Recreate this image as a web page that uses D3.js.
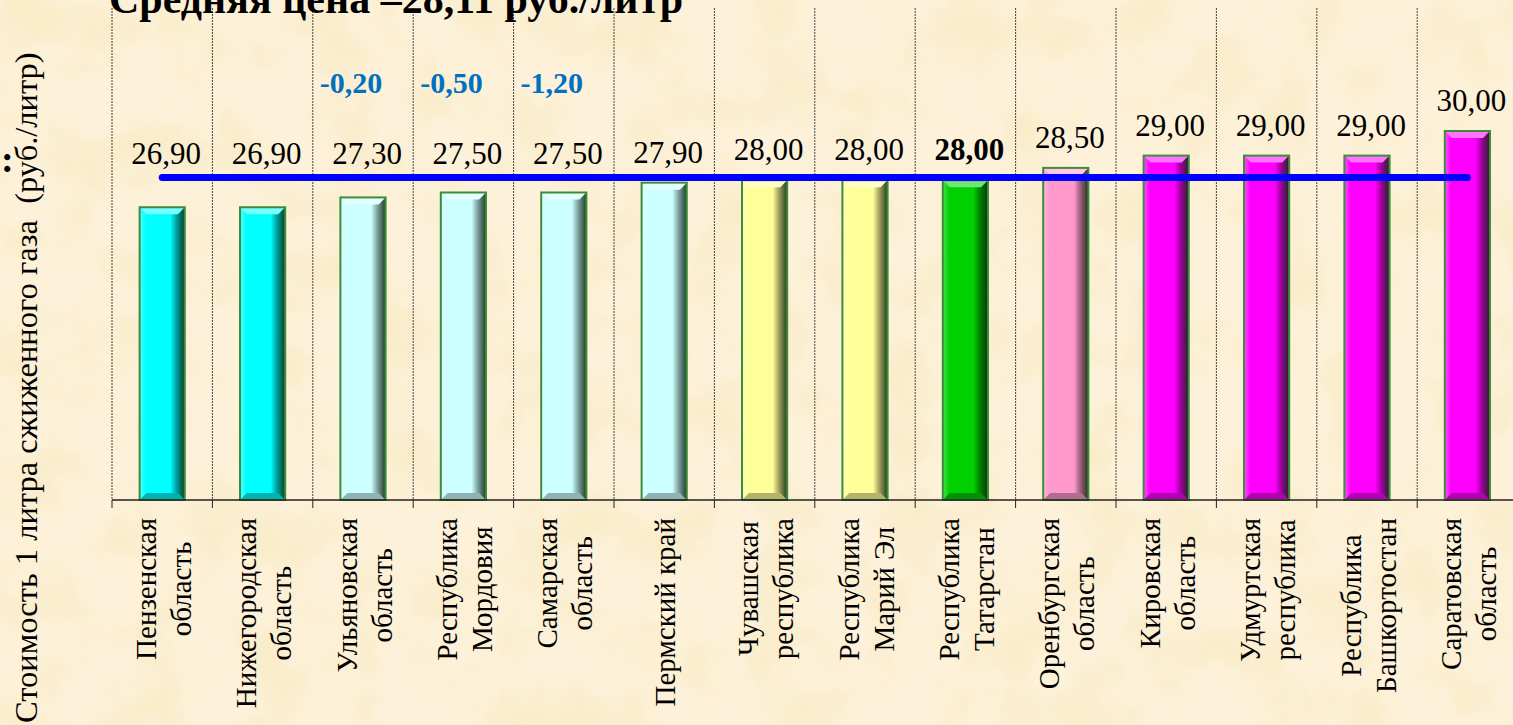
<!DOCTYPE html>
<html>
<head>
<meta charset="utf-8">
<title>Стоимость сжиженного газа</title>
<script src="https://d3js.org/d3.v7.min.js"></script>
<style>
  html, body { margin: 0; padding: 0; overflow: hidden; }
  svg text { font-family: "Liberation Serif", "Times New Roman", serif; }
</style>
</head>
<body>
<div id="chart"></div>
<script>
// Data
var categories = [
    "Пензенская\nобласть", "Нижегородская\nобласть", "Ульяновская\nобласть",
    "Республика\nМордовия", "Самарская\nобласть", "Пермский край",
    "Чувашская\nреспублика", "Республика\nМарий Эл", "Республика\nТатарстан",
    "Оренбургская\nобласть", "Кировская\nобласть", "Удмуртская\nреспублика",
    "Республика\nБашкортостан", "Саратовская\nобласть"
];
var prices = [26.90, 26.90, 27.30, 27.50, 27.50, 27.90, 28.00, 28.00, 28.00, 28.50, 29.00, 29.00, 29.00, 30.00];
var changes = [null, null, -0.20, -0.50, -1.20, null, null, null, null, null, null, null, null, null];
var groups = ["low", "low", "cut", "cut", "cut", "cut", "mid", "mid", "own", "up", "high", "high", "high", "high"];
var average = 28.11;
var highlight = "Республика\nТатарстан";
var yDomain = [15, 35];

var groupColors = {
    low: "#00ffff", cut: "#ccffff", mid: "#ffff99",
    own: "#00d000", up: "#ff99cc", high: "#ff00ff"
};

var width = 1513, height = 725;
var plot = { left: 112, right: 1517.6, top: 8, bottom: 500 };

function fmt(v) { return v.toFixed(2).replace(".", ","); }

var svg = d3.select("#chart").append("svg")
    .attr("width", width).attr("height", height);
var defs = svg.append("defs");

// parchment background
var paper = defs.append("filter").attr("id", "paper")
    .attr("x", 0).attr("y", 0).attr("width", "100%").attr("height", "100%");
paper.append("feTurbulence").attr("type", "fractalNoise")
    .attr("baseFrequency", "0.016").attr("numOctaves", 4).attr("seed", 5).attr("result", "n");
paper.append("feColorMatrix").attr("in", "n").attr("type", "matrix")
    .attr("values", "0 0 0 0 0.95  0 0 0 0 0.84  0 0 0 0 0.58  2.3 0 0 0 -0.92");

svg.append("rect").attr("width", width).attr("height", height).attr("fill", "#fdf1da");
svg.append("rect").attr("width", width).attr("height", height).attr("filter", "url(#paper)");

// scales
var x = d3.scaleBand().domain(categories).range([plot.left, plot.right]).padding(0);
var y = d3.scaleLinear().domain(yDomain).range([plot.bottom, plot.top]);
var barW = x.bandwidth() * 0.45;
var bev = 7;

// gradients per colour group
Object.keys(groupColors).forEach(function(k) {
    var c = groupColors[k];
    var g = defs.append("linearGradient").attr("id", "grad-" + k)
        .attr("x1", 0).attr("x2", 1).attr("y1", 0).attr("y2", 0);
    [[0, d3.interpolateRgb(c, "#ffffff")(0.3)], [0.14, c], [0.68, c],
     [0.82, d3.interpolateRgb(c, "#000000")(0.38)], [1, d3.interpolateRgb(c, "#0a2a0a")(0.9)]]
        .forEach(function(s) { g.append("stop").attr("offset", s[0]).attr("stop-color", s[1]); });
});

// vertical dotted grid lines on band edges
var edges = categories.map(function(d) { return x(d); }).concat([x.range()[1]]);
svg.append("g").selectAll("line").data(edges).enter().append("line")
    .attr("x1", function(d) { return d; }).attr("x2", function(d) { return d; })
    .attr("y1", plot.top).attr("y2", plot.bottom)
    .attr("stroke", "#444").attr("stroke-width", 1).attr("stroke-dasharray", "2,1");
svg.append("g").selectAll("line").data(edges).enter().append("line")
    .attr("x1", function(d) { return d; }).attr("x2", function(d) { return d; })
    .attr("y1", plot.bottom).attr("y2", plot.bottom + 8)
    .attr("stroke", "#222").attr("stroke-width", 1);

// bars
var data = categories.map(function(c, i) {
    return { cat: c, value: prices[i], change: changes[i], group: groups[i] };
});
var bars = svg.append("g").selectAll("g.bar").data(data).enter().append("g").attr("class", "bar");

bars.append("rect")
    .attr("x", function(d) { return x(d.cat) + x.bandwidth() / 2 - barW / 2; })
    .attr("y", function(d) { return y(d.value); })
    .attr("width", barW)
    .attr("height", function(d) { return y(yDomain[0]) - y(d.value); })
    .attr("fill", function(d) { return "url(#grad-" + d.group + ")"; });

// top bevel
bars.append("polygon")
    .attr("points", function(d) {
        var x0 = x(d.cat) + x.bandwidth() / 2 - barW / 2, x1 = x0 + barW, y0 = y(d.value);
        return [[x0, y0], [x1, y0], [x1 - bev, y0 + bev], [x0 + bev, y0 + bev]].join(" ");
    })
    .attr("fill", function(d) { return d3.interpolateRgb(groupColors[d.group], "#ffffff")(0.45); });
// bottom bevel
bars.append("polygon")
    .attr("points", function(d) {
        var x0 = x(d.cat) + x.bandwidth() / 2 - barW / 2, x1 = x0 + barW, y1 = y(yDomain[0]);
        return [[x0, y1], [x1, y1], [x1 - bev, y1 - bev], [x0 + bev, y1 - bev]].join(" ");
    })
    .attr("fill", function(d) { return d3.interpolateRgb(groupColors[d.group], "#000000")(0.3); });
// outline
bars.append("rect")
    .attr("x", function(d) { return x(d.cat) + x.bandwidth() / 2 - barW / 2; })
    .attr("y", function(d) { return y(d.value); })
    .attr("width", barW)
    .attr("height", function(d) { return y(yDomain[0]) - y(d.value); })
    .attr("fill", "none").attr("stroke", "#3c8c3c").attr("stroke-width", 2);

// x axis line
svg.append("line").attr("x1", plot.left).attr("x2", width).attr("y1", plot.bottom).attr("y2", plot.bottom)
    .attr("stroke", "#222").attr("stroke-width", 1.3);

// average line
svg.append("line")
    .attr("x1", x(categories[0]) + x.bandwidth() / 2)
    .attr("x2", x(categories[categories.length - 1]) + x.bandwidth() / 2)
    .attr("y1", y(average)).attr("y2", y(average))
    .attr("stroke", "#0000ff").attr("stroke-width", 7).attr("stroke-linecap", "round");

// value labels
svg.append("g").selectAll("text").data(data).enter().append("text")
    .attr("x", function(d) { return x(d.cat) + x.bandwidth() / 2 + 4; })
    .attr("y", function(d) { return Math.min(y(d.value) - 20, 164); })
    .attr("text-anchor", "middle")
    .attr("font-size", 31)
    .attr("font-weight", function(d) { return d.cat === highlight ? "bold" : "normal"; })
    .attr("fill", "#000")
    .text(function(d) { return fmt(d.value); });

// price change labels
svg.append("g").selectAll("text").data(data.filter(function(d) { return d.change !== null; }))
    .enter().append("text")
    .attr("x", function(d) { return x(d.cat) + x.bandwidth() / 2 - 12; })
    .attr("y", 93)
    .attr("text-anchor", "middle")
    .attr("font-size", 30).attr("font-weight", "bold")
    .attr("fill", "#0070c0")
    .text(function(d) { return fmt(d.change); });

// category labels, rotated
var lineGap = 35;
var catG = svg.append("g").selectAll("g").data(data).enter().append("g")
    .attr("transform", function(d) {
        return "translate(" + (x(d.cat) + x.bandwidth() / 2) + "," + (plot.bottom + 18) + ") rotate(-90)";
    });
catG.each(function(d) {
    var g = d3.select(this);
    var lines = d.cat.split("\n");
    var t = g.append("text").attr("font-size", 29).attr("text-anchor", "middle").attr("fill", "#000");
    lines.forEach(function(l, i) {
        t.append("tspan").attr("x", 0).attr("y", 11 + (i - (lines.length - 1) / 2) * lineGap).text(l);
    });
    var maxLen = 0;
    t.selectAll("tspan").each(function() { maxLen = Math.max(maxLen, this.getComputedTextLength()); });
    t.selectAll("tspan").attr("x", -maxLen / 2);
});

// axis title
svg.append("text")
    .attr("transform", "translate(37,723) rotate(-90)")
    .attr("font-size", 32.5)
    .attr("fill", "#000")
    .attr("xml:space", "preserve")
    .text("Стоимость 1 литра сжиженного газа  (руб./литр)");

svg.append("text").attr("x", 1).attr("y", 172)
    .attr("font-size", 38).attr("font-weight", "bold").text(":");

// title (its top runs off the page, as in the original slide)
svg.append("text").attr("x", 109).attr("y", 13)
    .attr("font-size", 42).attr("font-weight", "bold").attr("fill", "#000")
    .text("Средняя цена –" + fmt(average) + " руб./литр");
</script>
</body>
</html>
